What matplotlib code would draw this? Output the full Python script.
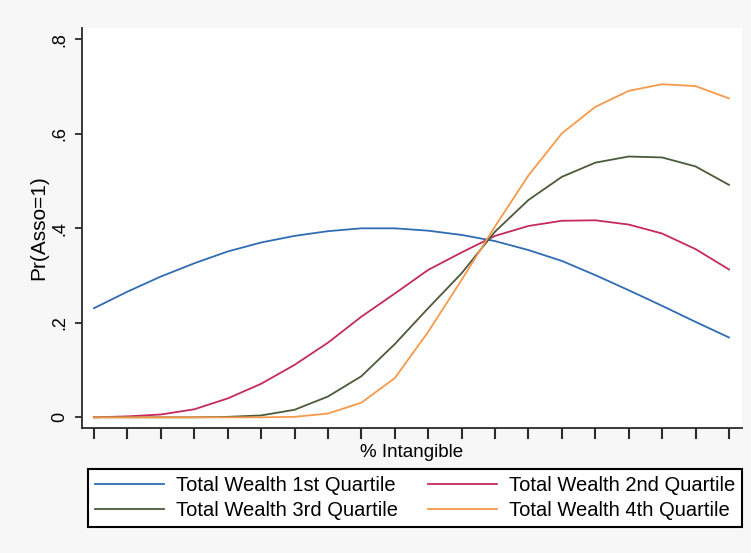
import matplotlib
matplotlib.use("Agg")
import matplotlib.pyplot as plt
from matplotlib.lines import Line2D

plt.rcParams["font.family"] = ["Liberation Sans", "DejaVu Sans"]

# Predicted probability profiles over 20 grid points of % intangible
grid = list(range(1, 21))
q1 = [0.231, 0.266, 0.298, 0.326, 0.351, 0.370, 0.384, 0.394, 0.400, 0.400,
      0.395, 0.386, 0.373, 0.354, 0.331, 0.301, 0.269, 0.236, 0.202, 0.169]
q2 = [0.000, 0.002, 0.006, 0.017, 0.040, 0.071, 0.111, 0.158, 0.213, 0.262,
      0.312, 0.349, 0.384, 0.405, 0.416, 0.417, 0.408, 0.389, 0.356, 0.313]
q3 = [0.000, 0.000, 0.000, 0.000, 0.001, 0.004, 0.016, 0.044, 0.087, 0.155,
      0.231, 0.305, 0.393, 0.460, 0.509, 0.539, 0.552, 0.550, 0.531, 0.492]
q4 = [0.000, 0.000, 0.000, 0.000, 0.000, 0.000, 0.001, 0.008, 0.031, 0.083,
      0.181, 0.291, 0.404, 0.512, 0.601, 0.657, 0.691, 0.705, 0.701, 0.675]

series_labels = ["Total Wealth 1st Quartile", "Total Wealth 2nd Quartile",
                 "Total Wealth 3rd Quartile", "Total Wealth 4th Quartile"]
ytick_vals = [0, 0.2, 0.4, 0.6, 0.8]
ytick_text = ["0", ".2", ".4", ".6", ".8"]

colors = ["#2f6cb3", "#c42a5c", "#4b5a3a", "#f49a4a"]

fig = plt.figure(figsize=(7.51, 5.53), dpi=100, facecolor="#f7f7f7")
ax = fig.add_axes([82 / 751, 1 - 428 / 553, (742 - 82) / 751, (428 - 28) / 553])
ax.set_facecolor("white")

for ys, c in zip([q1, q2, q3, q4], colors):
    ax.plot(grid, ys, color=c, lw=1.3, solid_joinstyle="miter")

ax.set_xlim(0.64, 20.39)
ax.set_ylim(-0.0226, 0.824)

ax.set_xticks(grid)
ax.set_xticklabels([])
ax.set_yticks(ytick_vals)
ax.set_yticklabels(ytick_text, rotation=90, va="center", fontsize=13)

for s in ["top", "right"]:
    ax.spines[s].set_visible(False)
for s in ["left", "bottom"]:
    ax.spines[s].set_color("#2a2a2a")
    ax.spines[s].set_linewidth(1.3)
ax.tick_params(axis="x", length=8, width=1.5, color="#2a2a2a")
ax.tick_params(axis="y", length=5, width=1.3, color="#2a2a2a", pad=5)

ax.set_xlabel("% Intangible", fontsize=13.5, labelpad=0)
ax.set_ylabel("Pr(Asso=1)", fontsize=15, labelpad=2)

handles = [Line2D([], [], color=c, lw=1.3) for c in colors]
order = [0, 2, 1, 3]
x0, x1 = 88 / 751, 742 / 751
y0, y1 = 1 - 527 / 553, 1 - 470 / 553
leg = fig.legend([handles[i] for i in order], [series_labels[i] for i in order],
                 ncol=2, loc="lower left", mode="expand",
                 bbox_to_anchor=(x0, y0, x1 - x0, y1 - y0),
                 fontsize=14.5, frameon=True, fancybox=False, edgecolor="black",
                 framealpha=1, facecolor="white", handlelength=3.4,
                 handletextpad=0.6, columnspacing=1.2, labelspacing=0.3,
                 borderpad=0.35, borderaxespad=0)
leg.get_frame().set_linewidth(1.5)

fig.savefig("out.png", dpi=100, facecolor=fig.get_facecolor())
